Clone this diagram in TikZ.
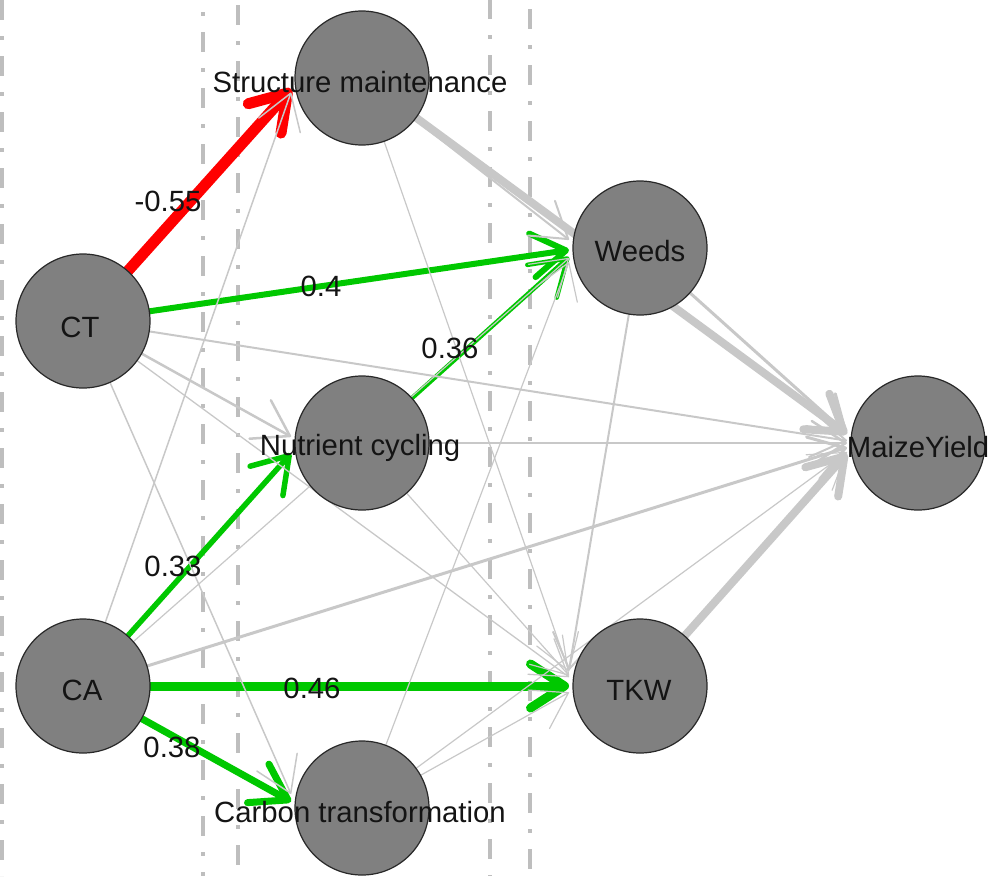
\documentclass[tikz,border=0pt]{standalone}
\usepackage{fontspec}
\setmainfont{Liberation Sans}
\usetikzlibrary{arrows.meta}
\definecolor{edgegray}{RGB}{200,200,200}
\definecolor{guidegray}{RGB}{190,190,190}
\definecolor{nodefill}{RGB}{128,128,128}
\definecolor{nodeline}{RGB}{40,40,40}
\definecolor{posgreen}{RGB}{0,200,0}
\definecolor{negred}{RGB}{255,0,0}
\definecolor{txtcol}{RGB}{20,20,20}
\pgfdeclarelayer{guides}
\pgfdeclarelayer{edges}
\pgfsetlayers{guides,edges,main}
\begin{document}
\begin{tikzpicture}[x=1pt,y=-1pt,
  var/.style={circle,fill=nodefill,draw=nodeline,line width=1.2pt,minimum size=134pt,inner sep=0pt},
  txt/.style={anchor=base,inner sep=0pt,text=txtcol,font=\fontsize{29.3}{34}\selectfont},
  conn/.style={line cap=round,-{Straight Barb[length=34pt,width=44pt,round]}},
  gedge/.style={conn,draw=edgegray},
  grnedge/.style={conn,draw=posgreen},
  rededge/.style={conn,draw=negred},
  guide/.style={draw=guidegray,line width=4pt,dash pattern=on 20pt off 16pt on 4pt off 16pt}]
\useasboundingbox (0,0) rectangle (992,876);

% guide lines
\begin{pgfonlayer}{guides}
\draw[guide,dash phase=0pt] (1.5,0) -- (1.5,876);
\draw[guide,dash phase=24pt] (203,0) -- (203,876);
\draw[guide,dash phase=51pt] (238,0) -- (238,876);
\draw[guide,dash phase=1pt] (490,0) -- (490,876);
\draw[guide,dash phase=47pt] (530,0) -- (530,876);
\end{pgfonlayer}

% nodes
\node[var] (CT) at (83,321) {};
\node[var] (CA) at (83,686) {};
\node[var] (SM) at (362,78) {};
\node[var] (N) at (362,443) {};
\node[var] (C) at (362,808) {};
\node[var] (W) at (640,248) {};
\node[var] (T) at (640,686) {};
\node[var] (M) at (918,443) {};

% arrow end points
\coordinate (SM-CT) at (291,89);
\coordinate (SM-CA) at (291,92.5);
\coordinate (N-CT) at (291,436.6);
\coordinate (N-CA) at (291,453.5);
\coordinate (C-CT) at (291,794);
\coordinate (C-CA) at (291,801.6);
\coordinate (W-CT) at (569,250);
\coordinate (W-CA) at (569,258);
\coordinate (W-SM) at (569,239.7);
\coordinate (W-N) at (569,257);
\coordinate (W-C) at (569,262);
\coordinate (T-CT) at (569,677);
\coordinate (T-CA) at (569,686);
\coordinate (T-SM) at (569,671.5);
\coordinate (T-N) at (569,675.5);
\coordinate (T-C) at (569,692.4);
\coordinate (T-W) at (569,670);
\coordinate (M-CT) at (847,440.7);
\coordinate (M-CA) at (847,447.5);
\coordinate (M-SM) at (847,434);
\coordinate (M-N) at (847,443);
\coordinate (M-C) at (847,452);
\coordinate (M-W) at (847,433.8);
\coordinate (M-T) at (847,453.5);

\begin{pgfonlayer}{edges}
% strong gray
\draw[gedge,line width=8pt] (SM) -- (M-SM);
\draw[gedge,line width=8pt] (T) -- (M-T);
% coloured
\draw[rededge,line width=11pt] (CT) -- (SM-CT);
\draw[grnedge,line width=6pt] (CT) -- (W-CT);
\draw[grnedge,line width=4.5pt] (N) -- (W-N);
\draw[grnedge,line width=5.5pt] (CA) -- (N-CA);
\draw[grnedge,line width=9pt] (CA) -- (T-CA);
\draw[grnedge,line width=7pt] (CA) -- (C-CA);
% weak gray
\draw[gedge,line width=2pt] (SM) -- (W-SM);
\draw[gedge,line width=3pt] (W) -- (M-W);
\draw[gedge,line width=2.5pt] (CT) -- (N-CT);
\draw[gedge,line width=2pt] (CT) -- (M-CT);
\draw[gedge,line width=1.3pt] (CT) -- (T-CT);
\draw[gedge,line width=1.5pt] (CT) -- (C-CT);
\draw[gedge,line width=1.5pt] (CA) -- (SM-CA);
\draw[gedge,line width=1.2pt] (CA) -- (W-CA);
\draw[gedge,line width=3pt] (CA) -- (M-CA);
\draw[gedge,line width=1.2pt] (SM) -- (T-SM);
\draw[gedge,line width=1.2pt] (N) -- (T-N);
\draw[gedge,line width=2.5pt] (N) -- (M-N);
\draw[gedge,line width=1.2pt] (C) -- (W-C);
\draw[gedge,line width=1.2pt] (C) -- (T-C);
\draw[gedge,line width=1.2pt] (C) -- (M-C);
\draw[gedge,line width=2pt] (W) -- (T-W);
\end{pgfonlayer}

% node labels
\node[txt] (SMt) at (360,92) {Structure maintenance};
\node[txt] (CTt) at (80,337) {CT};
\node[txt] (CAt) at (82,700) {CA};
\node[txt] (Nt) at (360,455) {Nutrient cycling};
\node[txt] (Ct) at (360,822) {Carbon transformation};
\node[txt] (Wt) at (640,261) {Weeds};
\node[txt] (Tt) at (639,700) {TKW};
\node[txt] (Mt) at (918,457) {MaizeYield};

% edge labels
\node[txt] (l1) at (168,211) {-0.55};
\node[txt] (l2) at (321,296) {0.4};
\node[txt] (l3) at (450,358) {0.36};
\node[txt] (l4) at (173,576) {0.33};
\node[txt] (l5) at (312,698) {0.46};
\node[txt] (l6) at (172,757) {0.38};
\end{tikzpicture}
\end{document}
